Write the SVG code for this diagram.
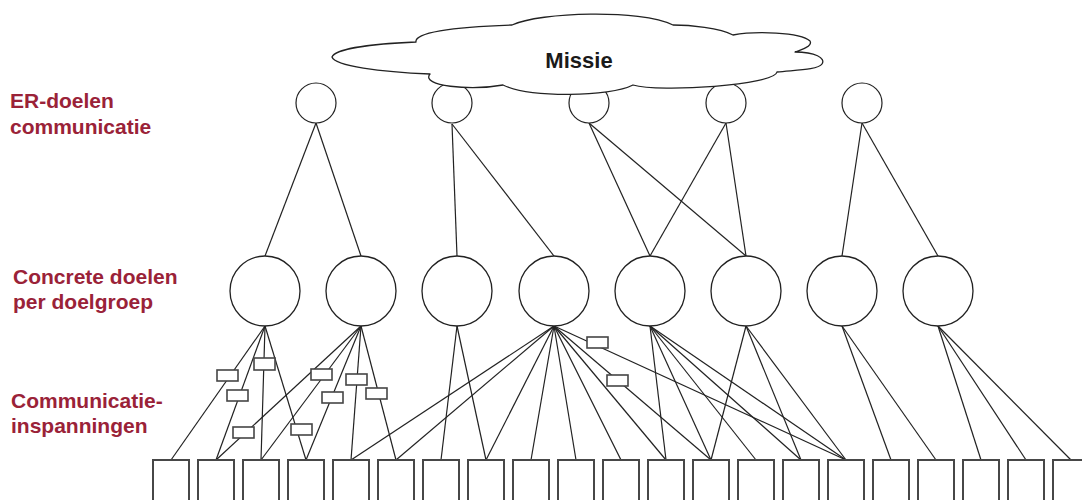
<svg xmlns="http://www.w3.org/2000/svg" width="1082" height="500" viewBox="0 0 1082 500">
  <style>
    .lbl { font-family: "Liberation Sans", Arial, sans-serif; font-weight: bold; font-size: 21px; fill: #9a2238; }
    .mis { font-family: "Liberation Sans", Arial, sans-serif; font-weight: bold; font-size: 22px; fill: #1a1a1a; }
    .er { fill: #fff; stroke: #222; stroke-width: 1.2; }
    .cd { fill: #fff; stroke: #222; stroke-width: 1.3; }
    .ci { fill: #fff; stroke: #474747; stroke-width: 2; }
    .tag { fill: #fff; stroke: #454545; stroke-width: 1.6; }
    .cn line { stroke: #222; stroke-width: 1.2; }
  </style>
  <rect width="1082" height="500" fill="#fff"/>

  <!-- level labels -->
  <g id="labels">
    <text class="lbl" x="10" y="108">ER-doelen</text>
    <text class="lbl" x="10" y="134">communicatie</text>
    <text class="lbl" x="13" y="284">Concrete doelen</text>
    <text class="lbl" x="13" y="309">per doelgroep</text>
    <text class="lbl" x="11" y="408">Communicatie-</text>
    <text class="lbl" x="11" y="433">inspanningen</text>
  </g>

  <!-- connectors -->
  <g id="connectors" class="cn">
    <!-- ER-doelen to concrete doelen -->
    <line x1="316" y1="123" x2="265" y2="256"/>
    <line x1="316" y1="123" x2="361" y2="256"/>
    <line x1="452" y1="124" x2="457" y2="256"/>
    <line x1="452" y1="124" x2="554" y2="256"/>
    <line x1="589" y1="123" x2="650" y2="256"/>
    <line x1="589" y1="123" x2="746" y2="256"/>
    <line x1="726" y1="123" x2="650" y2="256"/>
    <line x1="726" y1="123" x2="746" y2="256"/>
    <line x1="862" y1="123" x2="842" y2="256"/>
    <line x1="862" y1="123" x2="938" y2="256"/>
    <!-- concrete doelen to inspanningen -->
    <line x1="265" y1="326" x2="171" y2="460"/>
    <line x1="265" y1="326" x2="216" y2="460"/>
    <line x1="265" y1="326" x2="261" y2="460"/>
    <line x1="265" y1="326" x2="306" y2="460"/>
    <line x1="361" y1="326" x2="216" y2="460"/>
    <line x1="361" y1="326" x2="261" y2="460"/>
    <line x1="361" y1="326" x2="306" y2="460"/>
    <line x1="361" y1="326" x2="351" y2="460"/>
    <line x1="361" y1="326" x2="396" y2="460"/>
    <line x1="457" y1="326" x2="441" y2="460"/>
    <line x1="457" y1="326" x2="486" y2="460"/>
    <line x1="554" y1="326" x2="351" y2="460"/>
    <line x1="554" y1="326" x2="396" y2="460"/>
    <line x1="554" y1="326" x2="486" y2="460"/>
    <line x1="554" y1="326" x2="531" y2="460"/>
    <line x1="554" y1="326" x2="576" y2="460"/>
    <line x1="554" y1="326" x2="621" y2="460"/>
    <line x1="554" y1="326" x2="666" y2="460"/>
    <line x1="554" y1="326" x2="711" y2="460"/>
    <line x1="554" y1="326" x2="846" y2="460"/>
    <line x1="650" y1="326" x2="666" y2="460"/>
    <line x1="650" y1="326" x2="711" y2="460"/>
    <line x1="650" y1="326" x2="756" y2="460"/>
    <line x1="650" y1="326" x2="801" y2="460"/>
    <line x1="650" y1="326" x2="846" y2="460"/>
    <line x1="746" y1="326" x2="711" y2="460"/>
    <line x1="746" y1="326" x2="801" y2="460"/>
    <line x1="746" y1="326" x2="846" y2="460"/>
    <line x1="842" y1="326" x2="891" y2="460"/>
    <line x1="842" y1="326" x2="936" y2="460"/>
    <line x1="938" y1="326" x2="981" y2="460"/>
    <line x1="938" y1="326" x2="1026" y2="460"/>
    <line x1="938" y1="326" x2="1071" y2="460"/>
  </g>

  <!-- small tags sitting on connectors -->
  <g id="tags">
    <rect class="tag" x="217" y="370" width="21" height="11"/>
    <rect class="tag" x="227" y="390" width="21" height="11"/>
    <rect class="tag" x="254" y="358" width="21" height="12"/>
    <rect class="tag" x="291" y="424" width="21" height="11"/>
    <rect class="tag" x="233" y="427" width="21" height="11"/>
    <rect class="tag" x="311" y="369" width="21" height="11"/>
    <rect class="tag" x="322" y="392" width="21" height="11"/>
    <rect class="tag" x="346" y="374" width="21" height="11"/>
    <rect class="tag" x="366" y="388" width="21" height="11"/>
    <rect class="tag" x="587" y="337" width="21" height="11"/>
    <rect class="tag" x="607" y="375" width="21" height="11"/>
  </g>

  <!-- ER-doelen communicatie -->
  <g id="er1"><circle class="er" cx="316" cy="103" r="20"/></g>
  <g id="er2"><circle class="er" cx="452" cy="103" r="20"/></g>
  <g id="er3"><circle class="er" cx="589" cy="103" r="20"/></g>
  <g id="er4"><circle class="er" cx="726" cy="103" r="20"/></g>
  <g id="er5"><circle class="er" cx="862" cy="103" r="20"/></g>

  <!-- Missie cloud -->
  <g id="missie">
    <path fill="#fff" stroke="#222" stroke-width="1.3" stroke-linejoin="round"
      d="M 332,57
         C 335,49 370,44 416,42
         C 414,33 450,27 512,25
         C 540,12 640,9 673,25
         C 690,25 720,28 733,35
         C 755,31 800,32 810,41
         C 813,46 801,50 795,52
         C 815,52 826,58 822,64
         C 818,70 795,70 777,72
         C 775,85 660,93 633,85
         C 610,97 530,98 503,85
         C 470,91 420,86 430,74
         C 380,72 335,66 332,57 Z"/>
    <text class="mis" x="579" y="68" text-anchor="middle">Missie</text>
  </g>

  <!-- Concrete doelen per doelgroep -->
  <g id="cd1"><circle class="cd" cx="265" cy="291" r="35"/></g>
  <g id="cd2"><circle class="cd" cx="361" cy="291" r="35"/></g>
  <g id="cd3"><circle class="cd" cx="457" cy="291" r="35"/></g>
  <g id="cd4"><circle class="cd" cx="554" cy="291" r="35"/></g>
  <g id="cd5"><circle class="cd" cx="650" cy="291" r="35"/></g>
  <g id="cd6"><circle class="cd" cx="746" cy="291" r="35"/></g>
  <g id="cd7"><circle class="cd" cx="842" cy="291" r="35"/></g>
  <g id="cd8"><circle class="cd" cx="938" cy="291" r="35"/></g>

  <!-- Communicatie-inspanningen -->
  <g id="ci1"><rect class="ci" x="153" y="460" width="36" height="50"/></g>
  <g id="ci2"><rect class="ci" x="198" y="460" width="36" height="50"/></g>
  <g id="ci3"><rect class="ci" x="243" y="460" width="36" height="50"/></g>
  <g id="ci4"><rect class="ci" x="288" y="460" width="36" height="50"/></g>
  <g id="ci5"><rect class="ci" x="333" y="460" width="36" height="50"/></g>
  <g id="ci6"><rect class="ci" x="378" y="460" width="36" height="50"/></g>
  <g id="ci7"><rect class="ci" x="423" y="460" width="36" height="50"/></g>
  <g id="ci8"><rect class="ci" x="468" y="460" width="36" height="50"/></g>
  <g id="ci9"><rect class="ci" x="513" y="460" width="36" height="50"/></g>
  <g id="ci10"><rect class="ci" x="558" y="460" width="36" height="50"/></g>
  <g id="ci11"><rect class="ci" x="603" y="460" width="36" height="50"/></g>
  <g id="ci12"><rect class="ci" x="648" y="460" width="36" height="50"/></g>
  <g id="ci13"><rect class="ci" x="693" y="460" width="36" height="50"/></g>
  <g id="ci14"><rect class="ci" x="738" y="460" width="36" height="50"/></g>
  <g id="ci15"><rect class="ci" x="783" y="460" width="36" height="50"/></g>
  <g id="ci16"><rect class="ci" x="828" y="460" width="36" height="50"/></g>
  <g id="ci17"><rect class="ci" x="873" y="460" width="36" height="50"/></g>
  <g id="ci18"><rect class="ci" x="918" y="460" width="36" height="50"/></g>
  <g id="ci19"><rect class="ci" x="963" y="460" width="36" height="50"/></g>
  <g id="ci20"><rect class="ci" x="1008" y="460" width="36" height="50"/></g>
  <g id="ci21"><rect class="ci" x="1053" y="460" width="36" height="50"/></g>
</svg>
